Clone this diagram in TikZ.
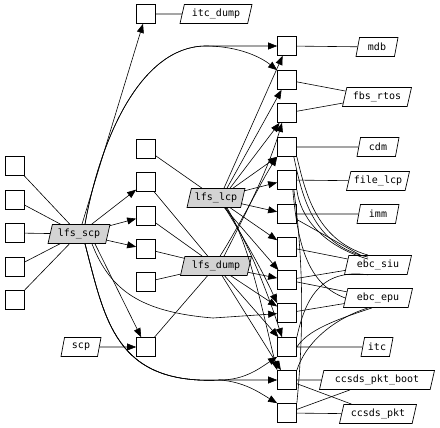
\documentclass[tikz,border=0pt]{standalone}
\usepackage{fontspec}
\newfontfamily\lblfont{DejaVu Sans Mono}
\usetikzlibrary{shapes.geometric,arrows.meta}
\definecolor{lgray}{HTML}{D3D3D3}
\tikzset{
  sq/.style={draw, fill=white, minimum width=19pt, minimum height=19pt, inner sep=0pt, line width=0.7pt},
  lab/.style={trapezium, trapezium left angle=70, trapezium right angle=110,
    trapezium stretches body, draw, fill=white, minimum height=19pt, inner sep=1pt,
    font=\lblfont\fontsize{10}{12}\selectfont, line width=0.7pt, minimum width=#1},
  lab/.default=40pt,
  glab/.style={lab=#1, fill=lgray},
  ln/.style={line width=0.6pt},
  arr/.style={ln, -{Triangle[length=9pt,width=7pt]}},
}
\begin{document}
\begin{tikzpicture}[x=1pt,y=-1pt]
\useasboundingbox (0,0) rectangle (440,428);
% squares
\node[sq] (T0) at (146,14) {};
\foreach \i/\y in {1/166,2/200,3/233,4/267,5/300} \node[sq] (L\i) at (15,\y) {};
\foreach \i/\y in {1/149,2/182,3/216,4/249,5/282,6/347} \node[sq] (C\i) at (146,\y) {};
\foreach \i/\y in {1/46,2/80,3/113,4/147,5/180,6/214,7/247,8/280,9/313,10/347,11/380,12/413} \node[sq] (R\i) at (287,\y) {};
% labels
\node[lab=72pt] (itcdump) at (216,14) {itc\_dump};
\node[glab=62pt] (S) at (79,234) {lfs\_scp};
\node[glab=58pt] (P) at (216,198) {lfs\_lcp};
\node[glab=71pt] (D) at (216,266) {lfs\_dump};
\node[lab=40pt] (scp) at (81,347) {scp};
\node[lab=42pt] (mdb) at (377,47) {mdb};
\node[lab=69pt] (fbs) at (377,97) {fbs\_rtos};
\node[lab=42pt] (cdm) at (378,147) {cdm};
\node[lab=63pt] (filelcp) at (378,181) {file\_lcp};
\node[lab=42pt] (imm) at (378,214) {imm};
\node[lab=67pt] (siu) at (378,265) {ebc\_siu};
\node[lab=69pt] (epu) at (378,298) {ebc\_epu};
\node[lab=32pt] (itc) at (377,347) {itc};
\node[lab=115pt] (boot) at (377,380) {ccsds\_pkt\_boot};
\node[lab=77pt] (pkt) at (378,414) {ccsds\_pkt};
% lfs_scp edges
\foreach \i in {1,...,5} \draw[ln] (L\i) -- (S);
\draw[arr] (S) -- (T0);
\draw[arr] ([xshift=6pt]S.north) .. controls (100,140) and (140,47) .. (205,46) -- (R1);
\draw[arr] ([xshift=6pt]S.north) .. controls (100,140) and (140,47) .. (205,46) .. controls (240,46) and (262,58) .. (R2.north west);
\draw[arr] (S) -- (C2);
\draw[arr] (S) -- (C3);
\draw[arr] (S) -- (C4);
\draw[arr] ([xshift=16pt]S.south) -- (C6);
\draw[arr] ([xshift=13pt]S.south) .. controls (110,290) and (140,312) .. (213,318) -- (R9);
\draw[arr] ([xshift=6pt]S.south) .. controls (105,320) and (115,385) .. (220,380) -- (R11);
\draw[arr] ([xshift=6pt]S.south) .. controls (105,320) and (115,385) .. (220,380) .. controls (245,380) and (260,368) .. (R10.south west);
\draw[arr] ([xshift=6pt]S.south) .. controls (105,320) and (115,385) .. (220,380) .. controls (245,382) and (260,393) .. (R12.north west);
\draw[arr] (scp) -- (C6);
% lfs_lcp edges
\draw[ln] (C1) -- (P);
\draw[arr] ([xshift=8pt]P.north) -- (R1);
\draw[arr] ([xshift=11pt]P.north) -- (R2);
\draw[arr] ([xshift=14pt]P.north) -- (R3);
\draw[arr] ([xshift=17pt]P.north) -- (R4.south west);
\draw[arr] (P) -- (R5);
\draw[arr] (P) -- (R6);
\draw[arr] (P) -- (R7);
\draw[arr] (P) -- (R8);
\draw[arr] ([xshift=9pt]P.south) .. controls (245,240) and (262,270) .. (R9.north west);
\draw[arr] ([xshift=10pt]P.south) .. controls (250,245) and (270,300) .. ([xshift=-5pt]R10.north);
\draw[arr] ([xshift=11pt]P.south) .. controls (250,245) and (262,310) .. (R11.north west);
% lfs_dump edges
\foreach \c in {C2,C3,C4,C5,C6} \draw[ln] (\c) -- (D);
\draw[arr] ([xshift=4pt]D.north) .. controls (240,225) and (262,180) .. (R4.south west);
\draw[arr] ([xshift=8pt]D.north) .. controls (245,215) and (268,170) .. ([xshift=-5pt]R3.south);
\draw[arr] (D) -- (R8);
\draw[arr] (D) -- (R9);
\draw[arr] (D) -- (R10);
\draw[arr] (D) -- (R11);
% right side
\draw[ln] (T0) -- (itcdump);
\draw[ln] (R1) -- (mdb);
\draw[ln] (R2) -- (fbs);
\draw[ln] (R3) -- (fbs);
\draw[ln] (R4) -- (cdm);
\draw[ln] (R5) -- (filelcp);
\draw[ln] (R6) -- (imm);
\draw[ln] (R10) -- (itc);
\draw[ln] (R11) -- (boot);
\draw[ln] (R12) -- (pkt);
\draw[ln] (R11) -- (pkt);
\draw[ln] (R12) -- (boot);
% ebc edges
\draw[ln] (R4.south east) .. controls (305,190) and (315,240) .. (siu.north west);
\draw[ln] ([xshift=-3pt]R4.south east) .. controls (302,195) and (312,245) .. ([yshift=-2pt]siu.north west);
\draw[ln] (R5.south east) .. controls (300,215) and (320,245) .. ([yshift=-4pt]siu.north west);
\draw[ln] ([xshift=-3pt]R5.south east) .. controls (302,250) and (305,320) .. (R12.north east);
\draw[ln] ([xshift=-4pt]R5.south east) .. controls (298,250) and (310,285) .. (epu.west);
\draw[ln] (R6) -- (siu);
\draw[ln] (R7) -- (siu);
\draw[ln] (R8) -- (siu);
\draw[ln] (R8) -- (epu);
\draw[ln] (R9) -- (epu);
\draw[ln] (R10.north east) .. controls (305,300) and (320,268) .. (siu.south west);
\draw[ln] (epu.south west) .. controls (330,320) and (305,345) .. (R11.north east);
\draw[ln] ([xshift=4pt]epu.south west) .. controls (335,320) and (308,330) .. (R10.east);
\end{tikzpicture}
\end{document}
